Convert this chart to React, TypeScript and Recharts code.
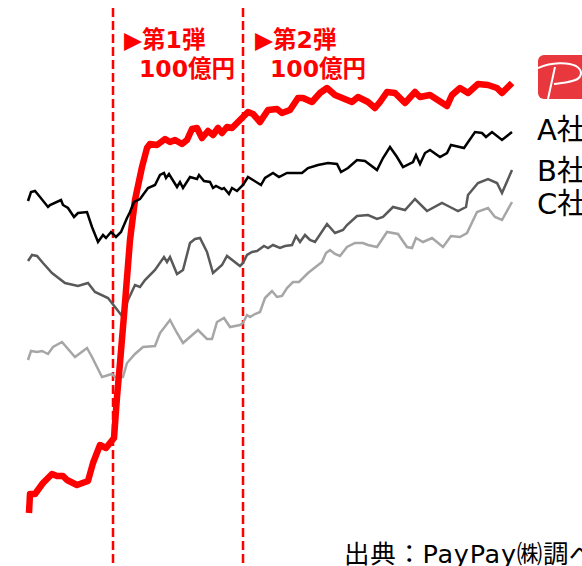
import { Line, LineChart, ReferenceLine, XAxis, YAxis } from 'recharts'

const WIDTH = 582
const HEIGHT = 566

// days since the start of the period, and share index
const paypayDays = [1, 2, 7, 15, 24, 29, 35, 39, 49, 60, 65, 72, 78, 86, 89, 92, 97, 102, 107, 114, 119, 122, 129, 137, 142, 147, 154, 159, 164, 169, 174, 180, 185, 190, 194, 199, 204, 209, 215, 220, 225, 232, 240, 249, 254, 262, 270, 275, 284, 292, 299, 307, 324, 330, 340, 347, 352, 359, 367, 377, 387, 392, 402, 419, 424, 432, 440, 450, 460, 469, 474, 484]
const paypayValues = [53, 72, 72, 83, 92, 90, 90, 86, 81, 85, 103, 121, 118, 128, 169, 203, 263, 326, 366, 399, 418, 422, 421, 427, 424, 426, 422, 426, 437, 438, 428, 435, 431, 438, 433, 439, 438, 443, 449, 454, 452, 444, 456, 457, 453, 456, 468, 468, 464, 473, 478, 471, 464, 469, 464, 458, 464, 474, 473, 463, 474, 469, 471, 460, 471, 478, 473, 482, 481, 478, 473, 483]

const companyADays = [0, 3, 7, 12, 20, 22, 33, 35, 40, 46, 50, 59, 64, 70, 75, 78, 83, 88, 93, 99, 102, 106, 112, 120, 127, 132, 136, 138, 141, 149, 152, 155, 162, 169, 171, 176, 182, 185, 188, 194, 196, 201, 204, 209, 215, 220, 225, 233, 237, 245, 251, 259, 274, 280, 290, 300, 309, 313, 320, 329, 337, 349, 355, 362, 369, 375, 385, 388, 392, 397, 402, 412, 419, 423, 436, 447, 454, 458, 464, 474, 479, 484]
const companyAValues = [365, 374, 375, 369, 359, 361, 366, 361, 358, 349, 353, 354, 339, 324, 331, 328, 334, 329, 334, 348, 354, 364, 367, 378, 381, 391, 393, 388, 392, 379, 384, 378, 389, 387, 391, 385, 384, 378, 380, 377, 378, 372, 378, 375, 381, 389, 386, 381, 388, 393, 389, 393, 393, 398, 401, 403, 402, 394, 398, 406, 405, 396, 408, 419, 409, 399, 404, 411, 402, 413, 416, 409, 413, 421, 418, 434, 433, 429, 434, 426, 430, 434]

const companyBDays = [0, 4, 9, 15, 24, 37, 50, 60, 67, 80, 94, 100, 107, 112, 117, 127, 136, 139, 142, 149, 155, 162, 167, 172, 179, 185, 194, 199, 212, 215, 219, 224, 229, 236, 240, 245, 252, 257, 264, 268, 272, 277, 282, 287, 299, 307, 315, 319, 329, 340, 349, 355, 365, 377, 387, 399, 414, 422, 430, 438, 440, 450, 460, 469, 474, 484]
const companyBValues = [305, 311, 310, 303, 293, 283, 280, 283, 274, 268, 250, 266, 281, 279, 286, 296, 309, 304, 309, 292, 296, 323, 327, 328, 314, 293, 301, 310, 300, 303, 311, 314, 315, 320, 318, 321, 318, 320, 321, 330, 324, 331, 326, 324, 342, 333, 336, 341, 350, 351, 347, 349, 359, 356, 367, 355, 363, 359, 355, 359, 371, 383, 387, 383, 373, 396]

const companyCDays = [0, 3, 9, 14, 20, 25, 34, 47, 59, 64, 74, 84, 87, 95, 99, 107, 115, 127, 132, 142, 149, 155, 170, 179, 184, 189, 196, 202, 212, 215, 219, 222, 227, 232, 237, 240, 244, 249, 254, 259, 265, 271, 280, 294, 298, 302, 307, 312, 319, 327, 335, 340, 349, 359, 370, 379, 384, 388, 395, 404, 415, 423, 432, 439, 449, 460, 467, 474, 484]
const companyCValues = [206, 215, 214, 215, 212, 219, 224, 209, 218, 209, 189, 192, 189, 189, 203, 212, 219, 220, 233, 246, 233, 223, 236, 227, 227, 244, 248, 239, 241, 243, 251, 249, 252, 254, 268, 271, 275, 269, 270, 278, 284, 284, 293, 304, 313, 316, 312, 310, 319, 323, 323, 321, 319, 334, 332, 319, 318, 328, 324, 328, 319, 330, 329, 333, 354, 358, 349, 346, 364]

const campaignDays = [85, 215]
const campaignLabels = ['▶第1弾', '▶第2弾']
const campaignAmounts = ['100億円', '100億円']
const companyLabels = ['A社', 'B社', 'C社']
const SOURCE_NOTE = '出典：PayPay㈱調べ'

const zip = (days: number[], values: number[]) => days.map((day, i) => ({ day, value: values[i] }))

const FONT = '"DejaVu Sans", "Noto Sans CJK JP", sans-serif'
const labelTops = [106, 147, 180]

export default function App() {
    return (
        <div style={{ position: 'absolute', left: 0, top: 0, width: WIDTH, height: HEIGHT, overflow: 'hidden', background: '#fff', fontFamily: FONT }}>
            <LineChart width={WIDTH} height={HEIGHT} margin={{ top: 0, right: 70, bottom: 0, left: 28 }}>
                <XAxis dataKey="day" type="number" domain={[0, 484]} hide />
                <YAxis dataKey="value" type="number" domain={[0, 566]} hide />
                {campaignDays.map((day) => (
                    <ReferenceLine
                        key={day}
                        segment={[{ x: day, y: 558 }, { x: day, y: 0 }]}
                        stroke="#ff0000"
                        strokeWidth={2.5}
                        strokeDasharray="9 4"
                    />
                ))}
                <Line data={zip(companyCDays, companyCValues)} dataKey="value" stroke="#a6a6a6" strokeWidth={2.5} dot={false} isAnimationActive={false} />
                <Line data={zip(companyBDays, companyBValues)} dataKey="value" stroke="#595959" strokeWidth={2.5} dot={false} isAnimationActive={false} />
                <Line data={zip(paypayDays, paypayValues)} dataKey="value" stroke="#ff0000" strokeWidth={6.5} strokeLinejoin="round" dot={false} isAnimationActive={false} />
                <Line data={zip(companyADays, companyAValues)} dataKey="value" stroke="#000000" strokeWidth={2.5} dot={false} isAnimationActive={false} />
            </LineChart>

            {campaignLabels.map((label, i) => (
                <div key={label} style={{ position: 'absolute', left: 124 + i * 131, top: 21, color: '#ff0000', fontSize: 23.5, fontWeight: 700, whiteSpace: 'nowrap' }}>
                    {label}
                </div>
            ))}
            {campaignAmounts.map((label, i) => (
                <div key={i} style={{ position: 'absolute', left: 139 + i * 131, top: 50, color: '#ff0000', fontSize: 23.5, fontWeight: 700, whiteSpace: 'nowrap' }}>
                    {label}
                </div>
            ))}

            <svg style={{ position: 'absolute', left: 538, top: 55 }} width={44} height={44} viewBox="0 0 44 44">
                <rect width={50} height={44} rx={6} fill="#e8383d" />
                <path d="M0 13 C14 7 30 7 38 11 C46 16 44 24 34 26 C28 28 22 28 16 29" fill="none" stroke="#fff" strokeWidth={2} />
                <path d="M17 12 L10 44" fill="none" stroke="#fff" strokeWidth={2} />
            </svg>

            {companyLabels.map((label, i) => (
                <div key={label} style={{ position: 'absolute', left: 537, top: labelTops[i], color: '#000', fontSize: 29, whiteSpace: 'nowrap' }}>
                    {label}
                </div>
            ))}

            <div style={{ position: 'absolute', left: 344, top: 533, color: '#000', fontSize: 25.5, letterSpacing: 0.7, whiteSpace: 'nowrap' }}>
                {SOURCE_NOTE}
            </div>
        </div>
    )
}
